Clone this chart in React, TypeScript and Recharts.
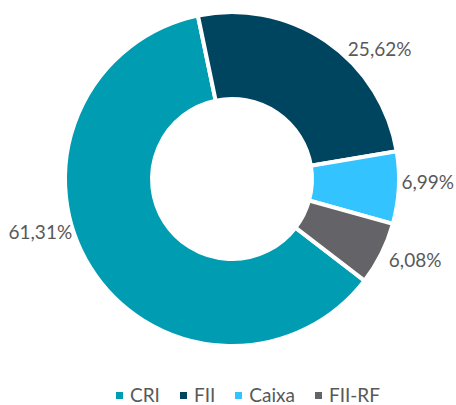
import React from "react";
import { PieChart, Pie, Cell, Legend } from "recharts";

const categories = ["CRI", "FII", "Caixa", "FII-RF"];
const shares = [61.31, 25.62, 6.99, 6.08];
const colors = ["#009DB2", "#00455F", "#33C3FF", "#646468"];

// Excel-style label placement, nudged from the mid-angle anchor
const labelNudge: Record<string, { dx: number; dy: number }> = {
  CRI: { dx: -24, dy: -52 },
  FII: { dx: 36, dy: 34 },
  Caixa: { dx: -2, dy: -7 },
  "FII-RF": { dx: 6, dy: -8 },
};

const data = categories.map((name, i) => ({ name, value: shares[i] }));

const FONT = "Lato, 'Open Sans', sans-serif";
const RAD = Math.PI / 180;

const renderLabel = (props: any) => {
  const { cx, cy, midAngle, name, value } = props;
  const r = 198;
  const n = labelNudge[name] || { dx: 0, dy: 0 };
  const x = cx + Math.cos(-midAngle * RAD) * r + n.dx;
  const y = cy + Math.sin(-midAngle * RAD) * r + n.dy;
  return (
    <text
      x={x}
      y={y + 7}
      textAnchor="middle"
      fill="#595959"
      fontSize={19}
      fontFamily={FONT}
    >
      {value.toFixed(2).replace(".", ",")}%
    </text>
  );
};

const renderLegend = () => (
  <div
    style={{
      display: "flex",
      justifyContent: "center",
      alignItems: "center",
      fontFamily: FONT,
      fontSize: 19,
      color: "#595959",
    }}
  >
    {categories.map((c, i) => (
      <div
        key={c}
        style={{ display: "flex", alignItems: "center", marginRight: i < categories.length - 1 ? 20 : 0 }}
      >
        <span
          style={{
            width: 7,
            height: 7,
            background: colors[i],
            display: "inline-block",
            marginRight: 7,
            marginTop: 2,
          }}
        />
        <span>{c}</span>
      </div>
    ))}
  </div>
);

export default function App() {
  return (
    <div style={{ position: "absolute", left: 0, top: 0, width: 456, height: 405, background: "#fff" }}>
      <PieChart width={456} height={405} margin={{ top: 0, right: 0, bottom: 0, left: 0 }}>
        <Pie
          data={data}
          dataKey="value"
          nameKey="name"
          cx={232}
          cy={179}
          innerRadius={80}
          outerRadius={167}
          startAngle={322.5}
          endAngle={-37.5}
          stroke="#fff"
          strokeWidth={4}
          label={renderLabel}
          labelLine={false}
          isAnimationActive={false}
        >
          {data.map((d, i) => (
            <Cell key={d.name} fill={colors[i]} />
          ))}
        </Pie>
        <Legend
          content={renderLegend}
          wrapperStyle={{ left: 40, top: 383, width: 416, bottom: "auto" }}
        />
      </PieChart>
    </div>
  );
}
